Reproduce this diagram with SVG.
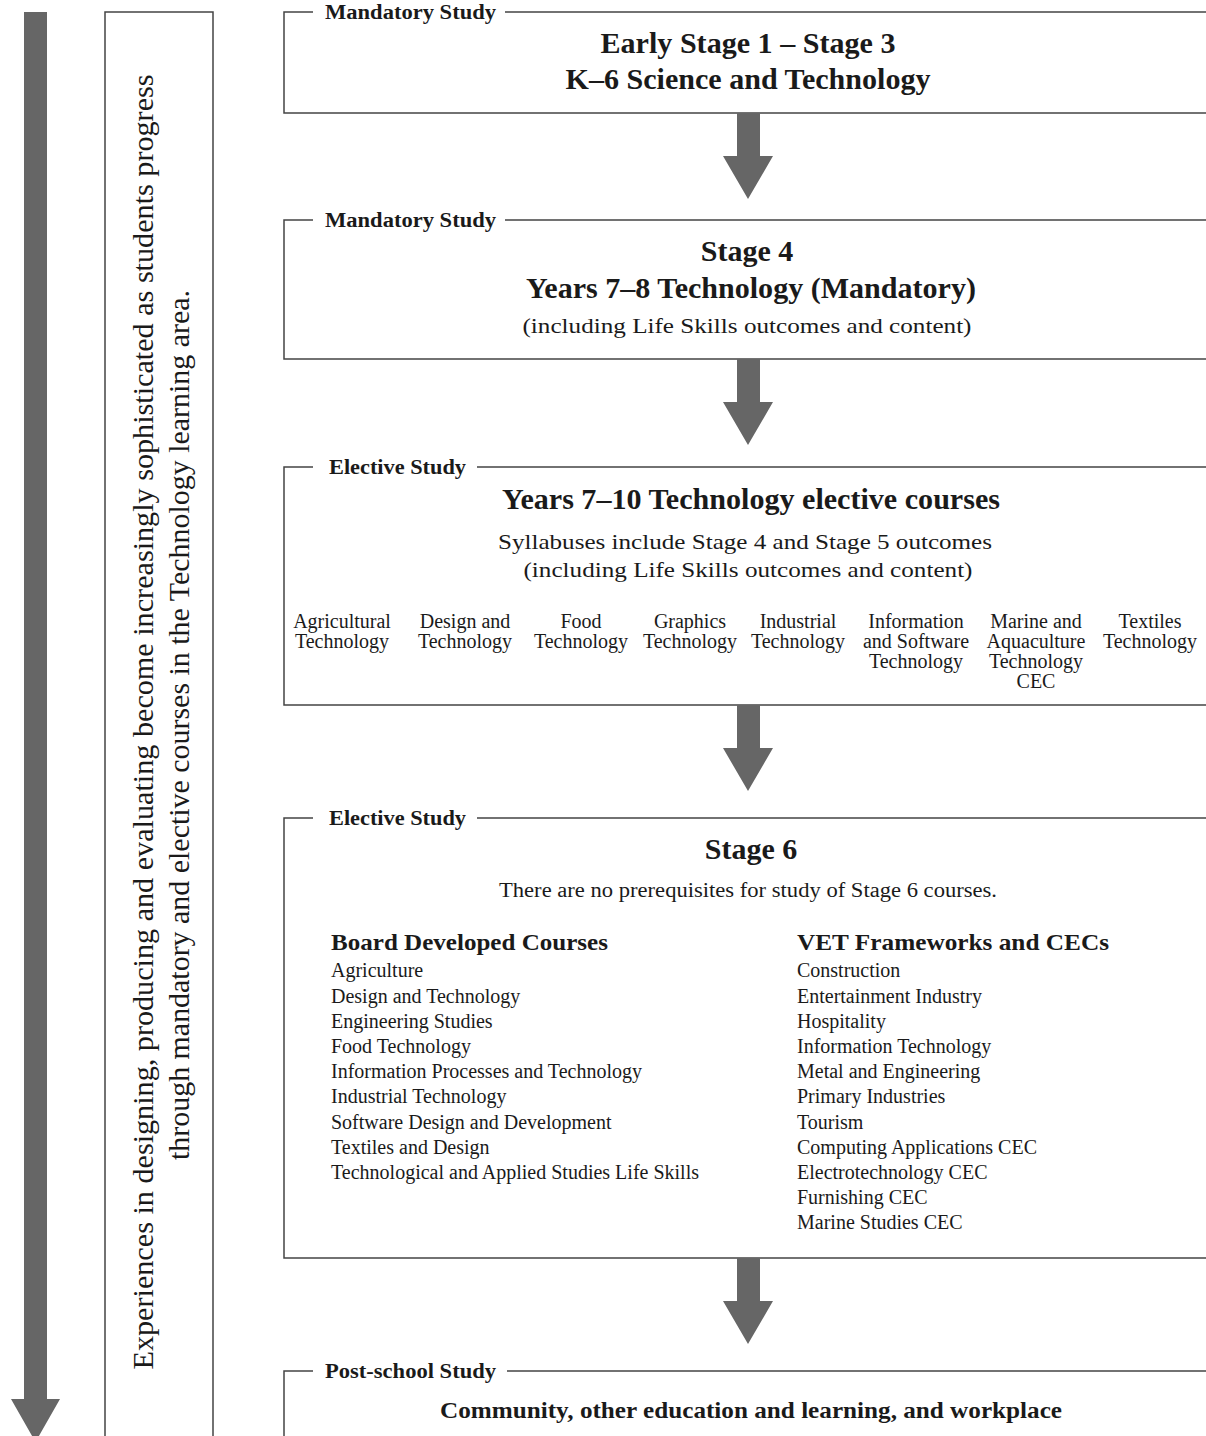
<svg xmlns="http://www.w3.org/2000/svg" width="1206" height="1436" viewBox="0 0 1206 1436">
<style>
.frame{fill:none;stroke:#444;stroke-width:1.5}
.arr{fill:#666}
.t{font-family:"Liberation Serif","Times New Roman",serif;fill:#1a1a1a}
.lbl{font-size:20px;font-weight:bold}
.ttl{font-size:30px;font-weight:bold;text-anchor:middle}
.sub{font-size:22px;text-anchor:middle}
.c{font-size:20px;text-anchor:middle}
.li{font-size:20px}
.hd{font-size:23px;font-weight:bold}
.side{font-size:30px;text-anchor:middle}
</style>
<rect width="1206" height="1436" fill="#fff"/>
<g id="progress-arrow">
<polygon class="arr" points="24,12 47,12 47,1399 60,1399 35.5,1442 11,1399 24,1399"/>
</g>
<g id="side-note">
<path class="frame" d="M105,1440 V12 H213 V1440"/>
<text class="t side" transform="translate(153,722) rotate(-90)" textLength="1295" lengthAdjust="spacingAndGlyphs">Experiences in designing, producing and evaluating become increasingly sophisticated as students progress</text>
<text class="t side" transform="translate(189,725) rotate(-90)" textLength="870" lengthAdjust="spacingAndGlyphs">through mandatory and elective courses in the Technology learning area.</text>
</g>
<g id="k6">
<path class="frame" d="M313,12 H284 V113 H1210 M505,12 H1210"/>
<text class="t lbl" x="325" y="19" textLength="171" lengthAdjust="spacingAndGlyphs">Mandatory Study</text>
<text class="t ttl" x="748" y="53" textLength="295" lengthAdjust="spacingAndGlyphs">Early Stage 1 – Stage 3</text>
<text class="t ttl" x="748" y="89" textLength="365" lengthAdjust="spacingAndGlyphs">K–6 Science and Technology</text>
</g>
<g id="stage4">
<path class="frame" d="M313,220 H284 V359 H1210 M505,220 H1210"/>
<text class="t lbl" x="325" y="227" textLength="171" lengthAdjust="spacingAndGlyphs">Mandatory Study</text>
<text class="t ttl" x="747" y="261">Stage 4</text>
<text class="t ttl" x="751" y="298" textLength="450" lengthAdjust="spacingAndGlyphs">Years 7–8 Technology (Mandatory)</text>
<text class="t sub" x="747" y="333" textLength="449" lengthAdjust="spacingAndGlyphs">(including Life Skills outcomes and content)</text>
</g>
<g id="electives">
<path class="frame" d="M313,467 H284 V705 H1210 M477,467 H1210"/>
<text class="t lbl" x="329" y="474" textLength="137" lengthAdjust="spacingAndGlyphs">Elective Study</text>
<text class="t ttl" x="751" y="509" textLength="498" lengthAdjust="spacingAndGlyphs">Years 7–10 Technology elective courses</text>
<text class="t sub" x="745" y="549" textLength="494" lengthAdjust="spacingAndGlyphs">Syllabuses include Stage 4 and Stage 5 outcomes</text>
<text class="t sub" x="748" y="577" textLength="449" lengthAdjust="spacingAndGlyphs">(including Life Skills outcomes and content)</text>
<text class="t c" x="342" y="628">Agricultural</text>
<text class="t c" x="342" y="648">Technology</text>
<text class="t c" x="465" y="628">Design and</text>
<text class="t c" x="465" y="648">Technology</text>
<text class="t c" x="581" y="628">Food</text>
<text class="t c" x="581" y="648">Technology</text>
<text class="t c" x="690" y="628">Graphics</text>
<text class="t c" x="690" y="648">Technology</text>
<text class="t c" x="798" y="628">Industrial</text>
<text class="t c" x="798" y="648">Technology</text>
<text class="t c" x="916" y="628">Information</text>
<text class="t c" x="916" y="648">and Software</text>
<text class="t c" x="916" y="668">Technology</text>
<text class="t c" x="1036" y="628">Marine and</text>
<text class="t c" x="1036" y="648">Aquaculture</text>
<text class="t c" x="1036" y="668">Technology</text>
<text class="t c" x="1036" y="688">CEC</text>
<text class="t c" x="1150" y="628">Textiles</text>
<text class="t c" x="1150" y="648">Technology</text>
</g>
<g id="stage6">
<path class="frame" d="M313,818 H284 V1258 H1210 M477,818 H1210"/>
<text class="t lbl" x="329" y="825" textLength="137" lengthAdjust="spacingAndGlyphs">Elective Study</text>
<text class="t ttl" x="751" y="859">Stage 6</text>
<text class="t" x="748" y="897" font-size="20" text-anchor="middle" textLength="498" lengthAdjust="spacingAndGlyphs">There are no prerequisites for study of Stage 6 courses.</text>
<text class="t hd" x="331" y="950" textLength="277" lengthAdjust="spacingAndGlyphs">Board Developed Courses</text>
<text class="t hd" x="797" y="950" textLength="312" lengthAdjust="spacingAndGlyphs">VET Frameworks and CECs</text>
<text class="t li" x="331" y="977">Agriculture</text>
<text class="t li" x="331" y="1003">Design and Technology</text>
<text class="t li" x="331" y="1028">Engineering Studies</text>
<text class="t li" x="331" y="1053">Food Technology</text>
<text class="t li" x="331" y="1078">Information Processes and Technology</text>
<text class="t li" x="331" y="1103">Industrial Technology</text>
<text class="t li" x="331" y="1129">Software Design and Development</text>
<text class="t li" x="331" y="1154">Textiles and Design</text>
<text class="t li" x="331" y="1179">Technological and Applied Studies Life Skills</text>
<text class="t li" x="797" y="977">Construction</text>
<text class="t li" x="797" y="1003">Entertainment Industry</text>
<text class="t li" x="797" y="1028">Hospitality</text>
<text class="t li" x="797" y="1053">Information Technology</text>
<text class="t li" x="797" y="1078">Metal and Engineering</text>
<text class="t li" x="797" y="1103">Primary Industries</text>
<text class="t li" x="797" y="1129">Tourism</text>
<text class="t li" x="797" y="1154">Computing Applications CEC</text>
<text class="t li" x="797" y="1179">Electrotechnology CEC</text>
<text class="t li" x="797" y="1204">Furnishing CEC</text>
<text class="t li" x="797" y="1229">Marine Studies CEC</text>
</g>
<g id="postschool">
<path class="frame" d="M313,1371 H284 V1440 M507,1371 H1210"/>
<text class="t lbl" x="325" y="1378" textLength="171" lengthAdjust="spacingAndGlyphs">Post-school Study</text>
<text class="t" x="751" y="1418" font-size="24" font-weight="bold" text-anchor="middle" textLength="622" lengthAdjust="spacingAndGlyphs">Community, other education and learning, and workplace</text>
</g>
<g id="connectors">
<polygon class="arr" points="737,113 760,113 760,156 773,156 748,199 723,156 737,156"/>
<polygon class="arr" points="737,359 760,359 760,402 773,402 748,445 723,402 737,402"/>
<polygon class="arr" points="737,705 760,705 760,748 773,748 748,791 723,748 737,748"/>
<polygon class="arr" points="737,1258 760,1258 760,1301 773,1301 748,1344 723,1301 737,1301"/>
</g>
</svg>
